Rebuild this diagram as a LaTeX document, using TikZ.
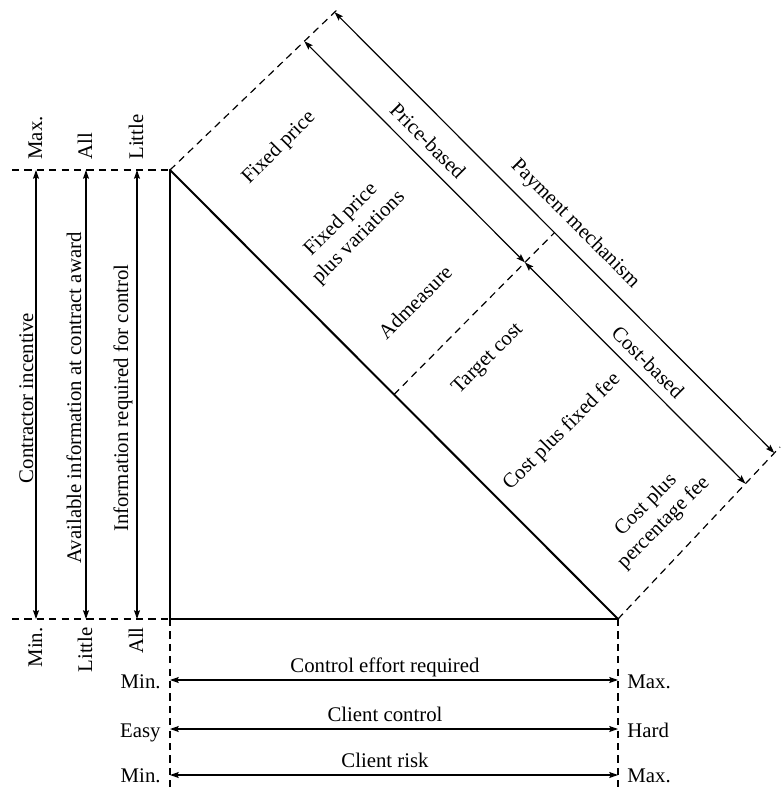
\documentclass[tikz,border=0pt]{standalone}
\usepackage{fontspec}
\setmainfont{Liberation Serif}
\usetikzlibrary{arrows.meta,calc}

\begin{document}
\begin{tikzpicture}[x=0.5pt,y=-0.5pt,
  frame/.style={line width=1pt, line cap=round},
  guide/.style={line width=0.6pt, dash pattern=on 3.6pt off 2.6pt},
  dim/.style={line width=0.6pt, {Stealth[length=4.4pt,width=3pt,inset=0.8pt]}-{Stealth[length=4.4pt,width=3pt,inset=0.8pt]}},
  lbl/.style={inner sep=0pt, font=\fontsize{10.4pt}{12.5pt}\selectfont},
  item/.style={lbl, rotate=45, align=center},
  band/.style={lbl, rotate=-45},
  side/.style={lbl, rotate=90}
]
\useasboundingbox (0,0) rectangle (783,791);

% triangle corners
\coordinate (A) at (170,170);
\coordinate (C) at (170,619);
\coordinate (B) at (618,619);
\coordinate (M) at ($(A)!0.5!(B)$);

% limits of the payment-mechanism band
\coordinate (Aout) at (339,8);
\coordinate (Bout) at (780,447);
\coordinate (PiA) at ($(A)!0.795!(Aout)$);
\coordinate (PoA) at ($(A)!0.974!(Aout)$);
\coordinate (PiB) at ($(B)!0.787!(Bout)$);
\coordinate (PoB) at ($(B)!0.965!(Bout)$);
\coordinate (PiM) at ($(PiA)!0.5!(PiB)$);
\coordinate (PoM) at ($(PoA)!0.5!(PoB)$);

% guide line ends
\coordinate (L1) at (12,170);
\coordinate (L2) at (12,619);
\coordinate (D1) at (170,791);
\coordinate (D2) at (618,791);

% vertical scales
\coordinate (v1t) at (36,170);  \coordinate (v1b) at (36,619);
\coordinate (v2t) at (86,170);  \coordinate (v2b) at (86,619);
\coordinate (v3t) at (137,170); \coordinate (v3b) at (137,619);

% horizontal scales
\coordinate (h1l) at (170,680); \coordinate (h1r) at (618,680);
\coordinate (h2l) at (170,729); \coordinate (h2r) at (618,729);
\coordinate (h3l) at (170,775); \coordinate (h3r) at (618,775);

% triangle
\draw[frame] (A) -- (C) -- (B);
\draw[frame] (A) -- (B);

% dashed guides
\draw[guide] (A) -- (Aout);
\draw[guide] (B) -- (Bout);
\draw[guide] (M) -- (PoM);
\draw[guide] (L1) -- (A);
\draw[guide] (L2) -- (C);
\draw[guide] (C) -- (D1);
\draw[guide] (B) -- (D2);

% band arrows
\draw[dim] (PiA) -- (PiM);
\draw[dim] (PiM) -- (PiB);
\draw[dim] (PoA) -- (PoB);

% left arrows
\draw[dim] (v1t) -- (v1b);
\draw[dim] (v2t) -- (v2b);
\draw[dim] (v3t) -- (v3b);

% bottom arrows
\draw[dim] (h1l) -- (h1r);
\draw[dim] (h2l) -- (h2r);
\draw[dim] (h3l) -- (h3r);

% contract types
\node[item] (fp)  at (279,148) {Fixed price};
\node[item] (fpv) at (350,229) {Fixed price\\plus variations};
\node[item] (adm) at (415,302) {Admeasure};
\node[item] (tc)  at (488,359) {Target cost};
\node[item] (cff) at (562,432) {Cost plus fixed fee};
\node[item] (cpf) at (655,514) {Cost plus\\percentage fee};

% band labels
\node[band] (pb) at (428,141) {Price-based};
\node[band] (pm) at (575,224) {Payment mechanism};
\node[band] (cb) at (648,362) {Cost-based};

% left scale labels
\node[side, anchor=base] (ci) at (33,398) {Contractor incentive};
\node[side, anchor=base] (ai) at (81,398) {Available information at contract award};
\node[side, anchor=base] (ir) at (128,398) {Information required for control};

\node[side, anchor=base west] (t1) at (42,160) {Max.};
\node[side, anchor=base west] (t2) at (92,160) {All};
\node[side, anchor=base west] (t3) at (143,160) {Little};

\node[side, anchor=base east] (b1) at (42,627) {Min.};
\node[side, anchor=base east] (b2) at (92,627) {Little};
\node[side, anchor=base east] (b3) at (143,627) {All};

% bottom scale labels
\node[lbl, anchor=base] (ce) at (385,672) {Control effort required};
\node[lbl, anchor=base] (cc) at (385,721) {Client control};
\node[lbl, anchor=base] (cr) at (385,767) {Client risk};

\node[lbl, anchor=base east] (l1) at (161,688) {Min.};
\node[lbl, anchor=base east] (l2) at (161,737) {Easy};
\node[lbl, anchor=base east] (l3) at (161,782) {Min.};

\node[lbl, anchor=base west] (r1) at (627,688) {Max.};
\node[lbl, anchor=base west] (r2) at (627,737) {Hard};
\node[lbl, anchor=base west] (r3) at (627,782) {Max.};
\end{tikzpicture}
\end{document}
